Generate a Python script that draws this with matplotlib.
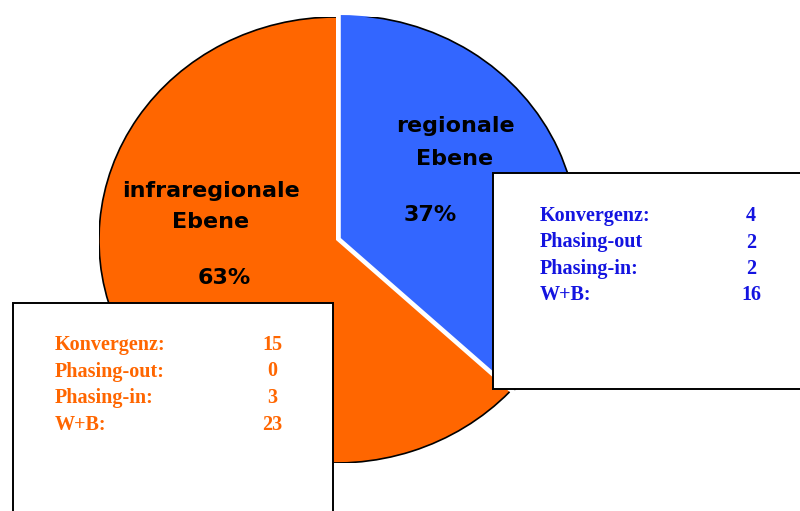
import matplotlib.pyplot as plt
from matplotlib.patches import Arc, Rectangle

# counts per level
measures = ["Konvergenz:", "Phasing-out", "Phasing-in:", "W+B:"]
measures_infra = ["Konvergenz:", "Phasing-out:", "Phasing-in:", "W+B:"]
regional_counts = [4, 2, 2, 16]
infra_counts = [15, 0, 3, 23]
level_names = ["regionale\nEbene", "infraregionale\nEbene"]

blue = "#3366FF"
orange = "#FF6600"
blue_text = "#1414E0"

totals = [sum(regional_counts), sum(infra_counts)]
shares = [t / sum(totals) * 100 for t in totals]

W, H = 800, 511
fig = plt.figure(figsize=(W / 100, H / 100), dpi=100)

# pie axes: slightly wider than tall, as in the original
cx, cy, rx, ry = 336, 240, 237, 223
ax = fig.add_axes([(cx - rx) / W, (H - cy - ry) / H, 2 * rx / W, 2 * ry / H])
wedges, _ = ax.pie(totals, colors=[blue, orange], startangle=90, counterclock=False,
                   explode=[0.022, 0], radius=1, wedgeprops=dict(linewidth=0))
ax.set_aspect("auto")
ax.set_xlim(-1, 1)
ax.set_ylim(-1, 1)
ax.axis("off")
for w in wedges:
    ax.add_patch(Arc(w.center, 2 * w.r, 2 * w.r, theta1=w.theta1, theta2=w.theta2,
                     color="black", lw=1.2))

# overlay in pixel coordinates for labels and boxes
ov = fig.add_axes([0, 0, 1, 1])
ov.set_xlim(0, W)
ov.set_ylim(H, 0)
ov.axis("off")
ov.patch.set_alpha(0)

lab = dict(fontsize=16, fontweight="bold", color="black", family="DejaVu Sans",
           ha="center", va="baseline")
ov.text(455, 132, level_names[0].split("\n")[0], **lab)
ov.text(455, 165, level_names[0].split("\n")[1], **lab)
ov.text(430, 221, f"{shares[0]:.0f}%", **lab)
ov.text(211, 197, level_names[1].split("\n")[0], **lab)
ov.text(211, 228, level_names[1].split("\n")[1], **lab)
ov.text(224, 284, f"{shares[1]:.0f}%", **lab)

# info boxes
ov.add_patch(Rectangle((493, 173), 320, 216, facecolor="white", edgecolor="black", lw=1.4, zorder=3))
ov.add_patch(Rectangle((13, 303), 320, 230, facecolor="white", edgecolor="black", lw=1.4, zorder=3))

box = dict(fontsize=14.5, fontweight="bold", family="Liberation Serif", va="baseline", zorder=4)
for i, (name, val) in enumerate(zip(measures, regional_counts)):
    y = 221 + i * 26.5
    ov.text(540, y, name, color=blue_text, ha="left", **box)
    ov.text(751, y, str(val), color=blue_text, ha="center", **box)
for i, (name, val) in enumerate(zip(measures_infra, infra_counts)):
    y = 350 + i * 26.5
    ov.text(55, y, name, color=orange, ha="left", **box)
    ov.text(272, y, str(val), color=orange, ha="center", **box)

fig.savefig("out.png", dpi=100)
